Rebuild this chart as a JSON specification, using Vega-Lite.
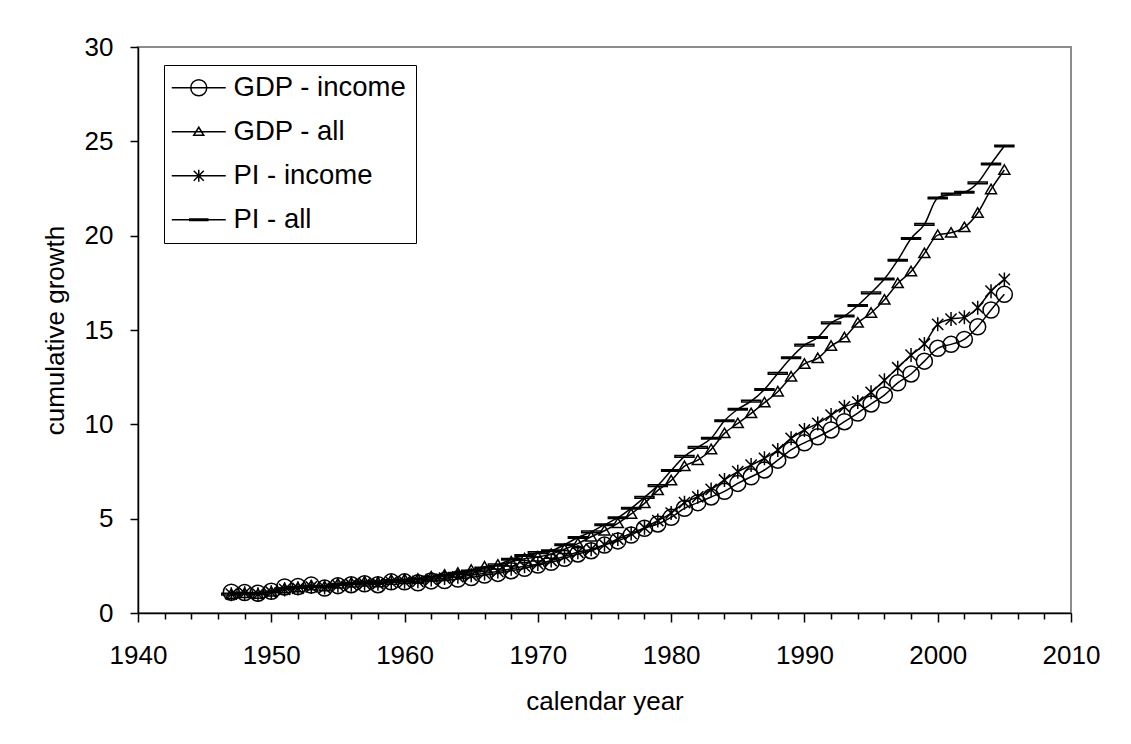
{
  "$schema": "https://vega.github.io/schema/vega-lite/v6.json",
  "width": 933,
  "height": 566,
  "autosize": {"type": "none"},
  "padding": {"left": 138, "top": 47, "right": 60, "bottom": 131},
  "background": "white",
  "config": {
    "font": "Liberation Sans",
    "view": {"stroke": "#8c8c8c", "strokeWidth": 2},
    "axis": {
      "labelFont": "Liberation Sans", "labelFontSize": 26, "labelColor": "black",
      "titleFont": "Liberation Sans", "titleFontSize": 26, "titleFontWeight": "normal", "titleColor": "black",
      "domainColor": "black", "domainWidth": 1.5, "tickColor": "black", "tickWidth": 1.5, "grid": false
    },
    "legend": {
      "orient": "none", "legendX": 26, "legendY": 18,
      "strokeColor": "black", "strokeWidth": 1, "fillColor": "white", "padding": 9,
      "labelFont": "Liberation Sans", "labelFontSize": 27.5, "labelColor": "black", "labelLimit": 400,
      "symbolSize": 400, "symbolStrokeWidth": 1.5, "symbolStrokeColor": "black",
      "rowPadding": 15, "labelOffset": 21, "symbolOffset": 12
    }
  },
  "data": {"values": [
    {"year":1947,"GDP - income":1.10,"GDP - all":1.00,"PI - income":1.00,"PI - all":1.00},
    {"year":1948,"GDP - income":1.08,"GDP - all":1.05,"PI - income":1.05,"PI - all":1.05},
    {"year":1949,"GDP - income":1.05,"GDP - all":1.00,"PI - income":1.00,"PI - all":1.02},
    {"year":1950,"GDP - income":1.15,"GDP - all":1.12,"PI - income":1.10,"PI - all":1.12},
    {"year":1951,"GDP - income":1.38,"GDP - all":1.30,"PI - income":1.25,"PI - all":1.28},
    {"year":1952,"GDP - income":1.40,"GDP - all":1.35,"PI - income":1.30,"PI - all":1.35},
    {"year":1953,"GDP - income":1.48,"GDP - all":1.45,"PI - income":1.38,"PI - all":1.42},
    {"year":1954,"GDP - income":1.32,"GDP - all":1.40,"PI - income":1.35,"PI - all":1.40},
    {"year":1955,"GDP - income":1.45,"GDP - all":1.55,"PI - income":1.45,"PI - all":1.52},
    {"year":1956,"GDP - income":1.50,"GDP - all":1.60,"PI - income":1.50,"PI - all":1.58},
    {"year":1957,"GDP - income":1.55,"GDP - all":1.65,"PI - income":1.55,"PI - all":1.65},
    {"year":1958,"GDP - income":1.50,"GDP - all":1.62,"PI - income":1.55,"PI - all":1.65},
    {"year":1959,"GDP - income":1.65,"GDP - all":1.75,"PI - income":1.62,"PI - all":1.72},
    {"year":1960,"GDP - income":1.65,"GDP - all":1.78,"PI - income":1.65,"PI - all":1.75},
    {"year":1961,"GDP - income":1.60,"GDP - all":1.80,"PI - income":1.68,"PI - all":1.80},
    {"year":1962,"GDP - income":1.70,"GDP - all":1.92,"PI - income":1.78,"PI - all":1.90},
    {"year":1963,"GDP - income":1.72,"GDP - all":2.02,"PI - income":1.85,"PI - all":2.00},
    {"year":1964,"GDP - income":1.80,"GDP - all":2.12,"PI - income":1.92,"PI - all":2.10},
    {"year":1965,"GDP - income":1.88,"GDP - all":2.28,"PI - income":2.00,"PI - all":2.22},
    {"year":1966,"GDP - income":2.01,"GDP - all":2.45,"PI - income":2.10,"PI - all":2.38},
    {"year":1967,"GDP - income":2.10,"GDP - all":2.55,"PI - income":2.20,"PI - all":2.55},
    {"year":1968,"GDP - income":2.24,"GDP - all":2.72,"PI - income":2.35,"PI - all":2.85},
    {"year":1969,"GDP - income":2.37,"GDP - all":2.88,"PI - income":2.48,"PI - all":3.05},
    {"year":1970,"GDP - income":2.54,"GDP - all":2.98,"PI - income":2.60,"PI - all":3.20},
    {"year":1971,"GDP - income":2.69,"GDP - all":3.12,"PI - income":2.78,"PI - all":3.30},
    {"year":1972,"GDP - income":2.90,"GDP - all":3.38,"PI - income":3.00,"PI - all":3.62},
    {"year":1973,"GDP - income":3.13,"GDP - all":3.68,"PI - income":3.22,"PI - all":4.00},
    {"year":1974,"GDP - income":3.30,"GDP - all":4.04,"PI - income":3.38,"PI - all":4.30},
    {"year":1975,"GDP - income":3.60,"GDP - all":4.36,"PI - income":3.62,"PI - all":4.68},
    {"year":1976,"GDP - income":3.82,"GDP - all":4.75,"PI - income":3.92,"PI - all":5.05},
    {"year":1977,"GDP - income":4.13,"GDP - all":5.25,"PI - income":4.22,"PI - all":5.55},
    {"year":1978,"GDP - income":4.49,"GDP - all":5.81,"PI - income":4.52,"PI - all":6.13},
    {"year":1979,"GDP - income":4.72,"GDP - all":6.50,"PI - income":4.90,"PI - all":6.75},
    {"year":1980,"GDP - income":5.07,"GDP - all":7.02,"PI - income":5.30,"PI - all":7.55},
    {"year":1981,"GDP - income":5.55,"GDP - all":7.78,"PI - income":5.85,"PI - all":8.30},
    {"year":1982,"GDP - income":5.85,"GDP - all":8.10,"PI - income":6.16,"PI - all":8.78},
    {"year":1983,"GDP - income":6.15,"GDP - all":8.67,"PI - income":6.55,"PI - all":9.26},
    {"year":1984,"GDP - income":6.45,"GDP - all":9.52,"PI - income":7.05,"PI - all":10.19},
    {"year":1985,"GDP - income":6.87,"GDP - all":10.05,"PI - income":7.49,"PI - all":10.80},
    {"year":1986,"GDP - income":7.22,"GDP - all":10.58,"PI - income":7.84,"PI - all":11.23},
    {"year":1987,"GDP - income":7.58,"GDP - all":11.15,"PI - income":8.20,"PI - all":11.85},
    {"year":1988,"GDP - income":8.10,"GDP - all":11.73,"PI - income":8.64,"PI - all":12.70},
    {"year":1989,"GDP - income":8.64,"GDP - all":12.52,"PI - income":9.26,"PI - all":13.53},
    {"year":1990,"GDP - income":9.02,"GDP - all":13.20,"PI - income":9.70,"PI - all":14.20},
    {"year":1991,"GDP - income":9.34,"GDP - all":13.50,"PI - income":10.05,"PI - all":14.60},
    {"year":1992,"GDP - income":9.70,"GDP - all":14.15,"PI - income":10.49,"PI - all":15.38},
    {"year":1993,"GDP - income":10.14,"GDP - all":14.60,"PI - income":10.93,"PI - all":15.74},
    {"year":1994,"GDP - income":10.60,"GDP - all":15.38,"PI - income":11.18,"PI - all":16.30},
    {"year":1995,"GDP - income":11.08,"GDP - all":15.90,"PI - income":11.70,"PI - all":16.97},
    {"year":1996,"GDP - income":11.55,"GDP - all":16.60,"PI - income":12.33,"PI - all":17.70},
    {"year":1997,"GDP - income":12.20,"GDP - all":17.47,"PI - income":13.00,"PI - all":18.70},
    {"year":1998,"GDP - income":12.67,"GDP - all":18.10,"PI - income":13.67,"PI - all":19.85},
    {"year":1999,"GDP - income":13.35,"GDP - all":19.06,"PI - income":14.26,"PI - all":20.60},
    {"year":2000,"GDP - income":14.03,"GDP - all":20.03,"PI - income":15.30,"PI - all":22.00},
    {"year":2001,"GDP - income":14.24,"GDP - all":20.15,"PI - income":15.58,"PI - all":22.20},
    {"year":2002,"GDP - income":14.50,"GDP - all":20.44,"PI - income":15.67,"PI - all":22.30},
    {"year":2003,"GDP - income":15.17,"GDP - all":21.20,"PI - income":16.18,"PI - all":22.80},
    {"year":2004,"GDP - income":16.06,"GDP - all":22.45,"PI - income":17.06,"PI - all":23.80},
    {"year":2005,"GDP - income":16.89,"GDP - all":23.48,"PI - income":17.68,"PI - all":24.75}
  ]},
  "transform": [{"fold": ["GDP - income", "GDP - all", "PI - income", "PI - all"], "as": ["series", "value"]}],
  "resolve": {"scale": {"shape": "independent"}, "axis": {"x": "independent"}},
  "layer": [
    {
      "transform": [{"filter": "false"}],
      "mark": {"type": "point", "filled": false, "color": "black", "strokeWidth": 1.5, "opacity": 1},
      "encoding": {
        "x": {"field": "year", "type": "quantitative",
          "scale": {"domain": [1940, 2010], "nice": false, "zero": false},
          "axis": {
            "orient": "bottom",
            "values": [1942,1944,1946,1948,1952,1954,1956,1958,1962,1964,1966,1968,1972,1974,1976,1978,1982,1984,1986,1988,1992,1994,1996,1998,2002,2004,2006,2008],
            "labels": false, "domain": false, "tickSize": 6, "title": null
          }},
        "y": {"field": "value", "type": "quantitative"},
        "shape": {"field": "series", "type": "nominal",
          "scale": {"domain": ["GDP - income", "GDP - all", "PI - income", "PI - all"],
            "range": [
              "M-2.7,0L2.7,0M-0.8,0A0.8,0.8 0 1,0 0.8,0A0.8,0.8 0 1,0 -0.8,0Z",
              "M-2.7,0L2.7,0M0,-0.45L0.5,0.35L-0.5,0.35Z",
              "M-2.7,0L2.7,0M-0.5,-0.5L0.5,0.5M-0.5,0.5L0.5,-0.5M0,-0.6L0,0.6",
              "M-2.7,0L2.7,0M-0.9,-0.08H0.9V0.08H-0.9Z"
            ]},
          "legend": {"title": null}}
      }
    },
    {
      "mark": {"type": "line", "color": "black", "strokeWidth": 1.5, "interpolate": "monotone"},
      "encoding": {
        "x": {"field": "year", "type": "quantitative",
          "scale": {"domain": [1940, 2010], "nice": false, "zero": false},
          "axis": {
            "orient": "bottom",
            "values": [1940,1950,1960,1970,1980,1990,2000,2010],
            "format": "d",
            "tickSize": 9,
            "labelPadding": 20, "labelOverlap": false, "labelFlush": false,
            "title": "calendar year", "titlePadding": 20
          }},
        "y": {"field": "value", "type": "quantitative",
          "scale": {"domain": [0, 30], "nice": false},
          "axis": {"values": [0,5,10,15,20,25,30], "tickSize": 8, "labelPadding": 17,
            "title": "cumulative growth", "titlePadding": 16}},
        "detail": {"field": "series", "type": "nominal"}
      }
    },
    {
      "mark": {"type": "point", "filled": false, "color": "black", "strokeWidth": 1.5, "opacity": 1, "size": 400},
      "encoding": {
        "x": {"field": "year", "type": "quantitative", "axis": null},
        "y": {"field": "value", "type": "quantitative"},
        "shape": {"field": "series", "type": "nominal",
          "scale": {"domain": ["GDP - income", "GDP - all", "PI - income", "PI - all"],
            "range": [
              "M-0.8,0A0.8,0.8 0 1,0 0.8,0A0.8,0.8 0 1,0 -0.8,0Z",
              "M0,-0.52L0.55,0.42L-0.55,0.42Z",
              "M-0.56,-0.56L0.56,0.56M-0.56,0.56L0.56,-0.56M0,-0.7L0,0.7",
              "M-0.95,-0.08H0.95V0.08H-0.95Z"
            ]},
          "legend": null}
      }
    }
  ]
}
